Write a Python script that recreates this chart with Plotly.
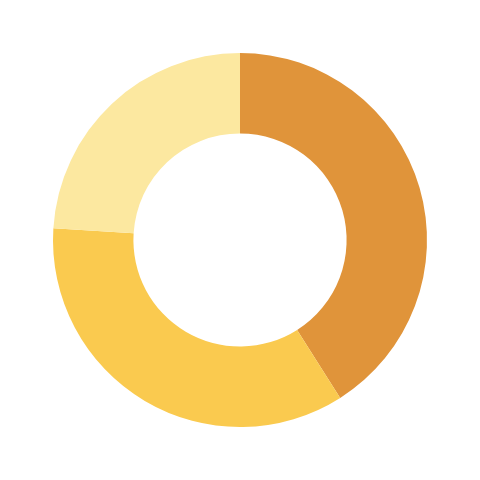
import plotly.graph_objects as go

labels = ["A", "B", "C"]
values = [41, 35, 24]
colors = ["#E0943A", "#FACA4F", "#FCE8A0"]

fig = go.Figure(go.Pie(
    labels=labels,
    values=values,
    hole=0.57,
    sort=False,
    direction="clockwise",
    rotation=0,
    textinfo="none",
    hoverinfo="label+value",
    marker=dict(colors=colors, line=dict(width=0)),
))
fig.update_layout(
    width=480, height=480,
    showlegend=False,
    margin=dict(l=45, r=61, t=45, b=61),
    paper_bgcolor="white",
    plot_bgcolor="white",
)
fig.write_html("out.html")
